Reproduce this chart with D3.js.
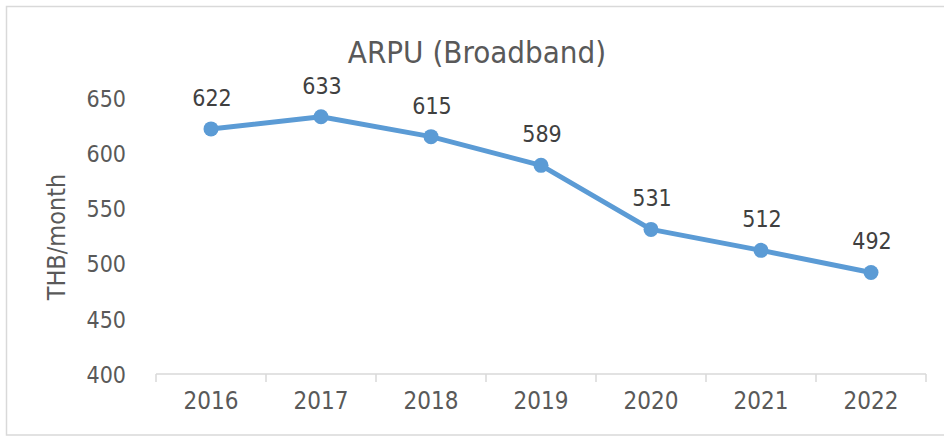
<!DOCTYPE html>
<html>
<head>
<meta charset="utf-8">
<script src="https://cdn.jsdelivr.net/npm/d3@7/dist/d3.min.js"></script>
<style>
  html, body { margin: 0; padding: 0; background: #fff; }
  svg { display: block; }
  text { font-family: 'DejaVu Sans Condensed', 'DejaVu Sans', sans-serif; font-stretch: condensed; }
</style>
</head>
<body>
<svg id="chart" width="944" height="437"></svg>
<script>
const title = "ARPU (Broadband)";
const yAxisTitle = "THB/month";
const years = ["2016", "2017", "2018", "2019", "2020", "2021", "2022"];
const arpu = [622, 633, 615, 589, 531, 512, 492];
const yTicks = [400, 450, 500, 550, 600, 650];

const svg = d3.select("#chart");
const W = 944, H = 437;

// chart border
svg.append("rect")
  .attr("x", 6.5).attr("y", 6.5)
  .attr("width", W + 10).attr("height", 428.5)
  .attr("fill", "#fff").attr("stroke", "#d9d9d9").attr("stroke-width", 1.5);

const plot = { left: 156, right: 926, top: 98, bottom: 374 };

const x = d3.scaleBand().domain(years).range([plot.left, plot.right]).padding(0);
const y = d3.scaleLinear().domain([400, 650]).range([plot.bottom, plot.top]);

// title
svg.append("text")
  .attr("x", 477).attr("y", 63)
  .attr("text-anchor", "middle")
  .attr("font-size", 31)
  .attr("fill", "#595959")
  .text(title);

// y axis title
svg.append("text")
  .attr("transform", `translate(65, ${(plot.top + plot.bottom) / 2 + 1}) rotate(-90)`)
  .attr("text-anchor", "middle")
  .attr("font-size", 25)
  .attr("fill", "#595959")
  .text(yAxisTitle);

// y axis (labels only)
const yAxis = d3.axisLeft(y).tickValues(yTicks).tickSize(0).tickPadding(0).tickFormat(d3.format("d"));
const gy = svg.append("g").attr("transform", `translate(126,0)`).call(yAxis);
gy.select(".domain").remove();
gy.selectAll("text")
  .attr("font-size", 23)
  .attr("fill", "#595959")
  .attr("dy", "0.36em");

// x axis
const xAxis = d3.axisBottom(x).tickSize(0).tickPadding(0);
const gx = svg.append("g").attr("transform", `translate(0,${plot.bottom})`).call(xAxis);
gx.select(".domain").attr("stroke", "#d9d9d9").attr("stroke-width", 1.5)
  .attr("d", `M${plot.left},0H${plot.right}`);
gx.selectAll(".tick text")
  .attr("font-size", 24)
  .attr("fill", "#595959")
  .attr("y", 0)
  .attr("dy", "1.45em");
// boundary tick marks
const bounds = years.map(d => x(d)).concat([x(years[years.length - 1]) + x.bandwidth()]);
gx.selectAll(".btick").data(bounds).enter().append("line")
  .attr("class", "btick")
  .attr("x1", d => d).attr("x2", d => d)
  .attr("y1", 0).attr("y2", 8)
  .attr("stroke", "#d9d9d9").attr("stroke-width", 1.5);

const cx = d => x(d) + x.bandwidth() / 2;
const data = years.map((yr, i) => ({ yr, v: arpu[i] }));

// line
const line = d3.line().x(d => cx(d.yr)).y(d => y(d.v));
svg.append("path")
  .datum(data)
  .attr("d", line)
  .attr("fill", "none")
  .attr("stroke", "#5B9BD5")
  .attr("stroke-width", 5)
  .attr("stroke-linejoin", "round")
  .attr("stroke-linecap", "round");

// markers
svg.selectAll(".dot").data(data).enter().append("circle")
  .attr("class", "dot")
  .attr("cx", d => cx(d.yr))
  .attr("cy", d => y(d.v))
  .attr("r", 7.5)
  .attr("fill", "#5B9BD5");

// data labels
svg.selectAll(".lbl").data(data).enter().append("text")
  .attr("class", "lbl")
  .attr("x", d => cx(d.yr) + 1)
  .attr("y", d => y(d.v) - 23)
  .attr("text-anchor", "middle")
  .attr("font-size", 23)
  .attr("fill", "#404040")
  .text(d => d.v);
</script>
</body>
</html>
